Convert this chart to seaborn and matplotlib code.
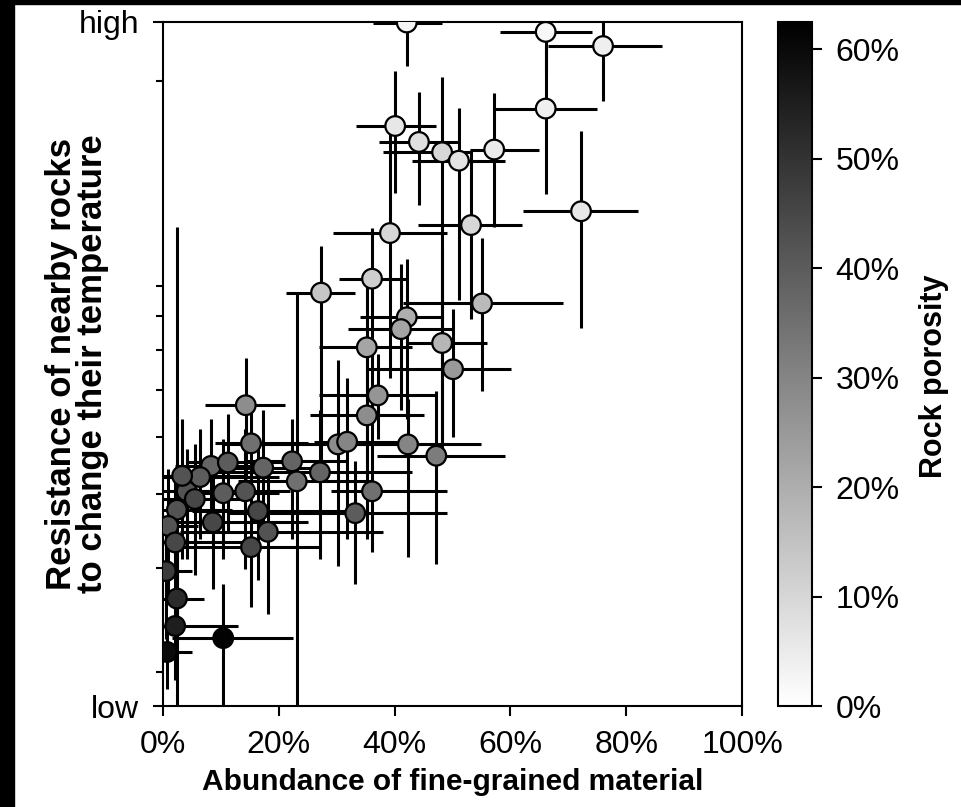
import numpy as np
import pandas as pd
import matplotlib
matplotlib.use("Agg")
import matplotlib.pyplot as plt
import seaborn as sns
from matplotlib.colors import Normalize
from matplotlib.patches import Rectangle
from matplotlib.ticker import FixedLocator, NullFormatter, PercentFormatter

# fine-grained fraction (%) with range
fines = [42.1, 66.1, 76.0, 66.1, 40.1, 44.2, 48.2, 51.1, 57.2, 72.2,
         53.2, 39.2, 36.1, 27.3, 55.1, 42.1, 41.1, 48.2, 35.2, 50.1,
         37.1, 35.2, 14.3, 15.2, 30.2, 31.8, 42.3, 47.2, 22.3, 27.1,
         23.1, 17.3, 8.3, 11.2, 36.1, 33.2, 16.4, 18.1, 15.2, 10.4,
         14.2, 4.1, 6.4, 3.3, 5.5, 2.4, 8.6, 0.9, 2.1, 0.5,
         2.4, 2.1, 10.4, 0.7]
fines_lo = [36.3, 58.2, 66.5, 57.3, 33.3, 37.3, 38.0, 43.0, 53.0, 62.2,
            44.0, 29.4, 30.4, 21.3, 41.4, 34.0, 32.0, 42.0, 27.0, 35.2,
            27.0, 25.4, 7.3, 9.0, 18.0, 26.0, 10.4, 37.0, 14.0, 3.5,
            13.0, 10.0, 2.0, 4.0, 29.0, 11.0, 5.0, 3.0, 2.0, 2.0,
            5.0, 0.0, 0.0, 0.0, 0.0, 0.0, 0.0, 0.0, 0.0, 0.0,
            0.0, 0.0, 1.5, 0.0]
fines_hi = [48.2, 74.1, 86.2, 75.0, 47.2, 51.0, 53.0, 59.0, 65.0, 82.0,
            62.0, 49.1, 42.1, 33.2, 69.0, 48.0, 50.0, 56.0, 43.0, 60.1,
            47.0, 45.0, 21.1, 25.0, 45.0, 44.0, 55.0, 59.0, 32.0, 43.0,
            36.0, 28.0, 18.0, 22.0, 49.0, 49.0, 34.0, 38.0, 27.0, 20.0,
            22.0, 12.0, 20.0, 14.0, 15.0, 12.0, 25.0, 6.0, 14.0, 5.0,
            7.0, 13.0, 22.5, 5.0]

# thermal inertia with range (log axis, shown only as low/high)
inertia = [2510, 2420, 2290, 1795, 1677, 1576, 1514, 1465, 1530, 1203,
           1140, 1105, 925, 876, 840, 796, 760, 720, 708, 650,
           587, 543, 565, 487, 485, 490, 485, 464, 454, 435,
           420, 443, 446, 452, 404, 371, 374, 345, 325, 401,
           404, 404, 427, 429, 392, 376, 358, 353, 331, 296,
           266, 239, 228, 216]
inertia_lo = [2120, 2060, 1850, 1287, 1293, 1232, 476, 852, 1130, 763,
              790, 627, 578, 440, 597, 535, 555, 467, 440, 500,
              495, 335, 424, 377, 302, 335, 313, 304, 335, 310,
              160, 349, 363, 343, 319, 281, 286, 250, 257, 310,
              299, 310, 335, 310, 292, 160, 276, 266, 255, 227,
              227, 194, 160, 187]
inertia_hi = [2900, 2900, 2515, 2290, 2075, 1915, 2030, 1800, 1905, 1645,
              1530, 1630, 1125, 1050, 1085, 997, 978, 1040, 905, 822,
              690, 760, 680, 578, 675, 627, 578, 597, 535, 555,
              870, 555, 535, 545, 585, 454, 495, 440, 440, 495,
              515, 476, 515, 535, 485, 1130, 449, 440, 424, 363,
              310, 276, 281, 246]

porosity = [3, 2, 4, 4, 6, 8, 10, 7, 5, 6,
            10, 10, 12, 14, 17, 20, 22, 18, 22, 25,
            26, 28, 28, 35, 28, 30, 30, 32, 38, 38,
            35, 38, 38, 40, 35, 40, 45, 42, 45, 40,
            42, 42, 40, 42, 45, 42, 45, 42, 45, 48,
            52, 55, 62, 60]

y_ticks_minor = [200, 300, 400, 500, 600, 700, 800, 900, 2000]
y_range = (175, 2515)
por_ticks = [0, 10, 20, 30, 40, 50, 60]
por_max = 62.5

df = pd.DataFrame({"fines": fines, "fines_lo": fines_lo, "fines_hi": fines_hi,
                   "inertia": inertia, "inertia_lo": inertia_lo,
                   "inertia_hi": inertia_hi, "porosity": porosity})

sns.set_style("ticks")
plt.rcParams["font.family"] = ["Liberation Sans", "DejaVu Sans"]
plt.rcParams.update({"text.color": "black", "axes.labelcolor": "black",
                     "xtick.color": "black", "ytick.color": "black",
                     "axes.edgecolor": "black"})

fig = plt.figure(figsize=(9.61, 8.07), dpi=100)
ax = fig.add_axes([163 / 961, 1 - 706 / 807, 579 / 961, 684 / 807])
cax = fig.add_axes([778 / 961, 1 - 706 / 807, 34 / 961, 684 / 807])

ax.errorbar(df["fines"], df["inertia"],
            xerr=[df["fines"] - df["fines_lo"], df["fines_hi"] - df["fines"]],
            yerr=[df["inertia"] - df["inertia_lo"], df["inertia_hi"] - df["inertia"]],
            fmt="none", ecolor="black", elinewidth=2.2, capsize=0, zorder=2)
sns.scatterplot(data=df, x="fines", y="inertia", hue="porosity", palette="gray_r",
                hue_norm=(0, por_max), s=200, edgecolor="black", linewidth=1.6,
                legend=False, ax=ax, zorder=3)

ax.set_yscale("log")
ax.set_xlim(0, 100)
ax.set_ylim(*y_range)
ax.set_xticks([0, 20, 40, 60, 80, 100])
ax.xaxis.set_major_formatter(PercentFormatter(xmax=100, decimals=0))
ax.set_yticks(list(y_range))
ax.set_yticklabels(["low", "high"])
ax.yaxis.set_minor_locator(FixedLocator(y_ticks_minor))
ax.yaxis.set_minor_formatter(NullFormatter())
ax.xaxis.set_minor_locator(FixedLocator([]))

ax.tick_params(which="major", length=7, width=1.5, labelsize=23, pad=10)
ax.tick_params(which="minor", axis="y", length=5, width=1.5)
for sp in ax.spines.values():
    sp.set_linewidth(1.5)

ax.set_xlabel("Abundance of fine-grained material", fontsize=21.5,
              fontweight="bold", labelpad=6)
ax.set_ylabel("Resistance of nearby rocks\nto change their temperature",
              fontsize=25, fontweight="bold", linespacing=0.92)
ax.yaxis.set_label_coords(-0.094, 0.5)

sm = plt.cm.ScalarMappable(cmap="gray_r", norm=Normalize(0, por_max))
cb = fig.colorbar(sm, cax=cax)
cb.set_ticks(por_ticks)
cb.ax.yaxis.set_major_formatter(PercentFormatter(xmax=100, decimals=0))
cb.ax.tick_params(length=7, width=1.5, labelsize=23, pad=10)
cb.outline.set_linewidth(1.5)
cb.set_label("Rock porosity", fontsize=22, fontweight="bold")
cb.ax.yaxis.set_label_coords(4.15, 0.482)

# dark frame edges of the source image
fig.add_artist(Rectangle((0, 0), 14 / 961, 1, transform=fig.transFigure,
                         color="black", zorder=10))
fig.add_artist(Rectangle((0, 1 - 4 / 807), 1, 4 / 807, transform=fig.transFigure,
                         color="black", zorder=10))

fig.savefig("out.png", dpi=100)
